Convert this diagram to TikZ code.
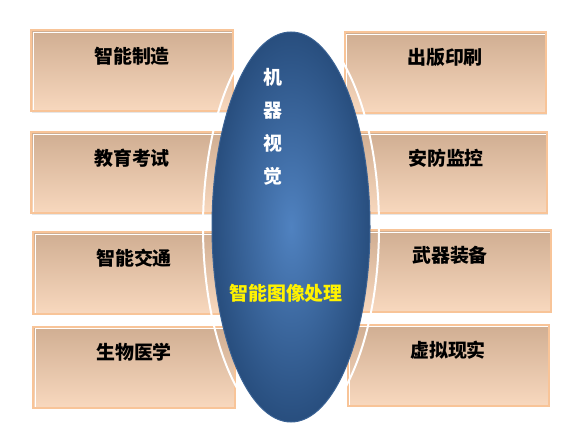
\documentclass[tikz,border=0pt]{standalone}
\usepackage{fontspec}
\newfontfamily\cjk{Noto Sans CJK SC}
\usetikzlibrary{positioning,shapes.geometric,shadows}
\definecolor{boxline}{RGB}{248,196,152}
\definecolor{boxtop}{RGB}{208,174,146}
\definecolor{boxmid}{RGB}{236,210,190}
\definecolor{boxbot}{RGB}{248,216,190}
\definecolor{ovalin}{RGB}{80,130,192}
\definecolor{ovalout}{RGB}{40,78,126}
\definecolor{ovalline}{RGB}{58,98,148}
\tikzset{
  box/.style={draw=boxline,line width=2bp,top color=boxtop,middle color=boxmid,bottom color=boxbot,
    minimum width=201bp,minimum height=81bp,inner sep=0pt,
    drop shadow={shadow xshift=1bp,shadow yshift=-1.5bp,opacity=0.2},
    path picture={\draw[white,line width=1.2bp]
      ([xshift=2bp,yshift=1bp]path picture bounding box.south west)
      -- ([xshift=2bp,yshift=-2bp]path picture bounding box.north west)
      -- ([xshift=-1bp,yshift=-2bp]path picture bounding box.north east);}},
  lbl/.style={inner sep=0pt,font=\cjk\bfseries\fontsize{19}{19}\selectfont}
}
\begin{document}
\begin{tikzpicture}[x=1bp,y=-1bp]
    \useasboundingbox (0,0) rectangle (586,441);
    \def\d{17bp}
    \node[box] (A0_0) at (132,71) {};
    \node[box] (A1_0) at (132,173) {};
    \node[box] (A2_0) at (134,273) {};
    \node[box] (A3_0) at (134,367) {};
    \node[box] (A0_1) at (445,73) {};
    \node[box] (A1_1) at (446,173) {};
    \node[box] (A2_1) at (450,271) {};
    \node[box] (A3_1) at (448,365) {};
    \node[lbl,below=\d of A0_0.north] (T0_0) {智能制造};
    \node[lbl,below=\d of A1_0.north] (T1_0) {教育考试};
    \node[lbl,below=\d of A2_0.north] (T2_0) {智能交通};
    \node[lbl,below=\d of A3_0.north] (T3_0) {生物医学};
    \node[lbl,below=\d of A0_1.north] (T0_1) {出版印刷};
    \node[lbl,below=\d of A1_1.north] (T1_1) {安防监控};
    \node[lbl,below=\d of A2_1.north] (T2_1) {武器装备};
    \node[lbl,below=\d of A3_1.north] (T3_1) {虚拟现实};
    \node[ellipse,draw=white,line width=2bp,minimum width=176bp,minimum height=408bp] (R) at (291,227) {};
    \node[ellipse,draw=ovalline,line width=1bp,inner color=ovalin,outer color=ovalout,
      minimum width=158bp,minimum height=390bp] (E) at (291,227) {};
    \node[lbl,text=white,align=center,font=\cjk\bfseries\fontsize{19}{33}\selectfont] (V) at (273,127) {机\\器\\视\\觉};
    \node[lbl,text=yellow] (Y) at (286,293) {智能图像处理};
  \end{tikzpicture}
\end{document}
